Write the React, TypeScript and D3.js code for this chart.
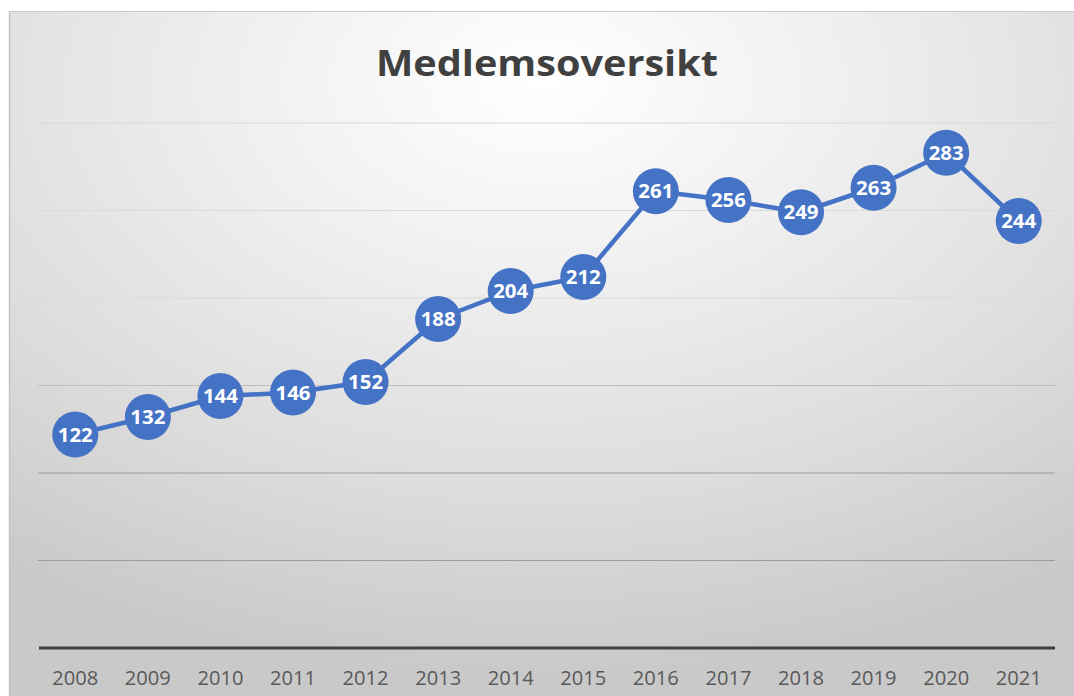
import React from "react";
import * as d3 from "d3";

const years = ["2008","2009","2010","2011","2012","2013","2014","2015","2016","2017","2018","2019","2020","2021"];
const members = [122,132,144,146,152,188,204,212,261,256,249,263,283,244];
const gridValues = [50,100,150,200,250,300];
const title = "Medlemsoversikt";

export default function App() {
  const W = 1074, H = 696;
  const x = d3.scaleBand<string>().domain(years).range([39, 1055]);
  const cx = (d: string) => (x(d) as number) + x.bandwidth() / 2;
  const y = d3.scaleLinear().domain([0, 300]).range([648, 123]);
  const line = d3.line<number>().x((_, i) => cx(years[i])).y((v) => y(v));
  const font = "Open Sans, Liberation Sans, sans-serif";
  const gridColor = (g: number) => (g <= 100 ? "#9c9c9c" : g <= 150 ? "#bdbdbd" : "#dadada");
  return (
    <svg width={W} height={H} style={{ position: "absolute", left: 0, top: 0, display: "block" }}>
      <defs>
        <radialGradient id="bg" cx="50%" cy="12%" r="85%" fx="50%" fy="10%">
          <stop offset="0%" stopColor="#ffffff" />
          <stop offset="30%" stopColor="#f1f1f1" />
          <stop offset="70%" stopColor="#dcdcdc" />
          <stop offset="100%" stopColor="#c9c9c9" />
        </radialGradient>
      </defs>
      <rect x={0} y={0} width={W} height={H} fill="#ffffff" />
      <rect x={9} y={11} width={W - 9} height={H - 11} fill="url(#bg)" />
      <line x1={9} x2={W} y1={11.5} y2={11.5} stroke="#c8c8c8" strokeWidth={1} />
      <line x1={9.5} x2={9.5} y1={11} y2={H} stroke="#c4c4c4" strokeWidth={1.5} />
      <text x={547} y={76} textAnchor="middle" fontFamily={font} fontWeight={700} fontSize={35} fill="#404040" textLength={342} lengthAdjust="spacingAndGlyphs">{title}</text>
      {gridValues.map((g) => (
        <line key={g} x1={38} x2={1055} y1={y(g)} y2={y(g)} stroke={gridColor(g)} strokeWidth={1.2} />
      ))}
      <line x1={39} x2={1055} y1={y(0)} y2={y(0)} stroke="#404040" strokeWidth={3} />
      {years.map((yr) => (
        <text key={yr} x={cx(yr)} y={685} textAnchor="middle" fontFamily={font} fontSize={20} fill="#595959" textLength={46} lengthAdjust="spacingAndGlyphs">{yr}</text>
      ))}
      <path d={line(members) || ""} fill="none" stroke="#4472C4" strokeWidth={4.5} strokeLinejoin="round" />
      {members.map((v, i) => (
        <g key={i}>
          <circle cx={cx(years[i])} cy={y(v)} r={23} fill="#4472C4" />
          <text x={cx(years[i])} y={y(v) + 7} textAnchor="middle" fontFamily={font} fontWeight={700} fontSize={20} fill="#ffffff" textLength={35} lengthAdjust="spacingAndGlyphs">{v}</text>
        </g>
      ))}
    </svg>
  );
}
